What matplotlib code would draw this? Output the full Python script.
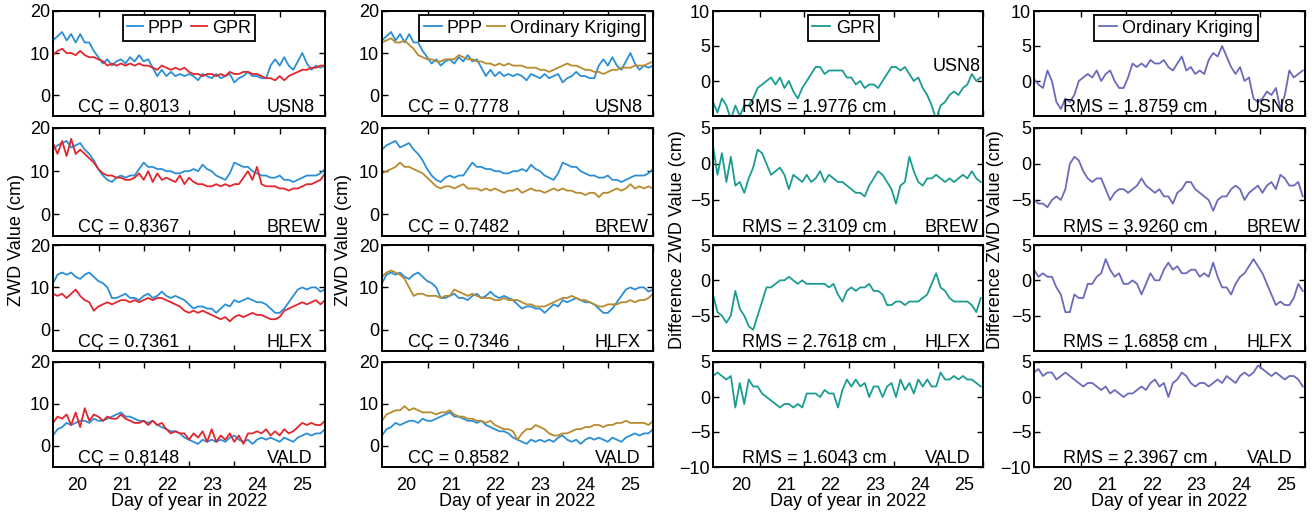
import numpy as np
import matplotlib
matplotlib.use("Agg")
import matplotlib.pyplot as plt

plt.rcParams['font.family'] = ['Liberation Sans', 'DejaVu Sans']

# ---------------- data ----------------
stations = ["USN8", "BREW", "HLFX", "VALD"]
cc_gpr = ["0.8013", "0.8367", "0.7361", "0.8148"]
cc_ok = ["0.7778", "0.7482", "0.7346", "0.8582"]
rms_gpr = ["1.9776", "2.3109", "2.7618", "1.6043"]
rms_ok = ["1.8759", "3.9260", "1.6858", "2.3967"]
day_labels = [20, 21, 22, 23, 24, 25]

# time axes (day of year 2022)
days_zwd = np.linspace(19.47, 25.51, 61)
days_diff = np.linspace(19.37, 25.37, 61)

ppp_usn8 = [13, 14, 15, 13, 14.5, 12.5, 14.5, 12.5, 12.5, 10.5, 9, 7.5, 8.5, 7, 8, 8.5, 7.5, 9, 8, 9.5,
            8, 8.5, 6.5, 4.5, 6, 4.5, 5.5, 4.5, 5, 4.5, 5, 4.5, 3.5, 5, 4.5, 4, 5, 4, 4.5, 5,
            3, 4, 4.5, 5.5, 4.5, 4.5, 4, 4, 7, 8.5, 7, 9, 7, 6, 8, 10, 7.5, 6, 7, 6.5, 7]
gpr_usn8 = [9.5, 10.5, 11, 10, 10, 9.5, 10.5, 9.5, 9, 9, 8.5, 8, 7, 7.5, 7, 7.5, 7, 7.5, 7, 7.5,
            7, 7, 6.5, 6, 7, 6.5, 6, 6.5, 6, 6.5, 5.5, 5, 5, 4.5, 5, 5, 4.5, 5, 4.5, 5.5,
            5, 5, 5.5, 5.5, 5, 5, 4.5, 4, 4, 3.5, 4.5, 3.5, 4.5, 5, 5.5, 6, 6, 6.5, 6.5, 7, 7]
ok_usn8 = [12.5, 13, 13.5, 12.5, 12.5, 13, 12, 11, 9.5, 9, 8.5, 8.5, 8, 8, 8.5, 8.5, 8.5, 9.5, 9, 8.5,
           8.5, 8, 8, 7.5, 7.5, 7, 7.5, 7, 7.5, 7, 7, 7, 6.5, 6.5, 6.5, 6, 6, 5.5, 6, 6.5,
           7, 7.5, 7, 7, 6.5, 6, 6, 5.5, 5.5, 5, 5.5, 6, 6, 6.5, 6.5, 6.5, 7, 7, 7, 7.5, 8]

ppp_brew = [15, 16, 16.5, 17, 15.5, 16, 16.5, 15, 14, 12.5, 10.5, 9, 8, 7.5, 8.5, 9, 8.5, 9, 9, 10.5,
            12, 11, 11, 10.5, 10.5, 10, 10, 9.5, 9.5, 10, 10, 10.5, 10, 11.5, 10.5, 10, 9, 8.5, 8, 9.5,
            12, 11.5, 11, 11, 10, 9.5, 9, 9, 8.5, 8.5, 9, 8, 8, 7.5, 8, 8.5, 9, 9, 9, 9.5, 10.5]
gpr_brew = [16.5, 14, 17, 13.5, 17.5, 14, 15, 14, 13, 12, 10.5, 9.5, 9, 9, 8.5, 8.5, 8, 8, 8.5, 9.5,
            8, 10, 7.5, 9.5, 8, 8.5, 8, 7.5, 9, 7, 8.5, 7.5, 7, 7, 6.5, 6.5, 7, 6.5, 7, 6.5,
            7, 7, 8.5, 10, 8, 11, 7, 6.5, 6.5, 6.5, 6, 6, 5.5, 6, 6, 6.5, 7, 7, 7.5, 8, 9.5]
ok_brew = [9.5, 10, 10.5, 11, 12, 11, 11, 10.5, 10, 9.5, 8.5, 7.5, 6.5, 6, 6.5, 6.5, 6, 6.5, 7, 6,
           6, 6, 5.5, 6, 5.5, 6, 5.5, 5, 5.5, 5.5, 6, 5, 5.5, 6, 5.5, 5.5, 5, 5.5, 6, 5.5,
           6, 5.5, 5.5, 5, 5, 4.5, 5, 5, 4, 5, 5, 5.5, 6, 5.5, 6, 7, 6, 6.5, 6, 6.5, 6]

ppp_hlfx = [11, 13, 13.5, 13, 13.5, 12.5, 12, 13, 13.5, 12.5, 11.5, 11, 10, 7.5, 7.5, 8, 8.5, 7.5, 7.5, 7,
            8, 8.5, 7.5, 8, 9, 8, 7.5, 8, 7.5, 7, 6, 5, 5.5, 5.5, 5, 5, 4, 5, 6, 5.5,
            7, 6.5, 7, 7.5, 7, 6.5, 6.5, 6, 5, 4, 4, 5, 6.5, 8, 9.5, 10, 9.5, 10, 10, 9, 9.5]
gpr_hlfx = [8.5, 8, 8.5, 7.5, 8.5, 9.5, 8, 7, 6.5, 4.5, 5.5, 6, 6.5, 6, 6.5, 7, 7, 6.5, 7, 6.5,
            7, 7.5, 7, 7.5, 7.5, 7, 6.5, 6, 5.5, 4.5, 4, 4.5, 4, 4.5, 4, 3.5, 3, 2.5, 3, 2,
            3, 3.5, 3, 3.5, 4, 3.5, 3.5, 3, 2.5, 2.5, 3, 4.5, 5, 5.5, 6, 6.5, 6, 6.5, 7, 6, 7]
ok_hlfx = [12.5, 13.5, 14, 13.5, 13, 12, 10, 8, 8.5, 8.5, 8, 8, 8, 7.5, 8, 8, 9.5, 9, 8.5, 8,
           8.5, 8, 7.5, 7.5, 7.5, 7, 7, 7.5, 7, 7, 7, 6.5, 6, 6, 5.5, 5.5, 5.5, 6, 6.5, 7,
           7.5, 7.5, 8, 7.5, 7, 7, 6.5, 6, 5.5, 5.5, 6, 6, 6, 6.5, 6.5, 7, 6.5, 7, 7, 7.5, 8.5]

ppp_vald = [2.5, 4, 4.5, 5.5, 5, 5.5, 6, 6, 5.5, 6.5, 6, 6, 6.5, 7, 7.5, 8, 7, 7, 6.5, 6,
            6, 5.5, 6, 5, 4.5, 4, 3.5, 3.5, 3, 2, 1.5, 1, 0.5, 1.5, 1, 1.5, 1, 1.5, 1, 2,
            2.5, 1.5, 1, 1.5, 0.5, 1.5, 2, 1.5, 2, 1.5, 1, 2, 1.5, 1, 2, 2.5, 3, 2.5, 3, 3, 4]
gpr_vald = [5.5, 7, 6.5, 7.5, 5, 8, 4.5, 9, 6, 7.5, 7, 6, 7, 6.5, 6.5, 7.5, 6.5, 6, 5.5, 5.5,
            6, 5, 6, 5, 5.5, 4, 3, 3.5, 3, 3, 1.5, 3, 2, 3.5, 1, 4, 1, 2.5, 1.5, 3,
            1, 2.5, 0.5, 3, 3, 3.5, 3, 4, 2.5, 3.5, 2.5, 4, 3, 3.5, 4.5, 5.5, 5, 5.5, 5, 5, 6]
ok_vald = [6, 7.5, 8, 8.5, 8.5, 9.5, 8.5, 9, 8.5, 8, 8, 8, 7.5, 8, 8, 8.5, 7.5, 7, 7, 6.5,
           6.5, 6, 6, 5.5, 6, 5, 4.5, 4, 4, 3.5, 1.5, 3, 4, 4, 5, 4.5, 4, 3, 2.5, 2.5,
           3, 3, 3.5, 4, 4, 4.5, 4.5, 5, 5, 4.5, 5, 5, 5.5, 5.5, 6, 5.5, 5.5, 5.5, 5.5, 5, 6]

# differences (model - PPP)
dgpr_usn8 = [-3, -4.5, -2.5, -3.5, -5.5, -3.5, -5, -3.5, -3.5, -2.5, -1, -0.5, 0, 0.5, -0.5, 0.5, -1, 0, -1.5, -2.5,
             -1, 0, 1, 2, 2, 1, 1.5, 1.5, 1.5, 1.5, 0.5, 0.5, -0.5, 0, -1, -0.5, -0.5, -1, 0, 1,
             2, 2, 1.5, 2, 1, 0, 0.5, -1, -2, -3.5, -5.5, -3.5, -3, -2, -1.5, -2, -1, -0.5, 1, 0, 0.5]
dgpr_brew = [2.5, -1.5, 1.5, -2.5, 1, -3, -2.5, -4, -2, -0.5, 2, 1.5, 0, -1.5, -1, -0.5, -1.5, -3.5, -1.5, -2,
             -2.5, -1.5, -2.5, -2, -1, -2.5, -1.5, -2, -2.5, -2.5, -3, -3.5, -4, -4, -4.5, -3, -2, -1, -1.5, -2.5,
             -3.5, -5.5, -3, -2.5, 1, -1, -2.5, -3, -2, -2, -1.5, -2, -2.5, -2, -2.5, -2, -1.5, -2, -1, -2, -2.5]
dgpr_hlfx = [-2, -4.5, -5, -6, -5, -1.5, -4, -5, -6.5, -7, -5, -3, -1, -1, -0.5, 0, 0, 0.5, 0, -0.5,
             0, -0.5, -0.5, -0.5, -0.5, -0.5, -1, -0.5, -2, -3, -1.5, -1, -1.5, -1, -1, -0.5, -1.5, -1.5, -2, -3.5,
             -3.5, -3, -3, -3.5, -3, -3, -3, -2.5, -2, -0.5, 1, -1, -1.5, -2.5, -3, -3, -3, -3, -3.5, -4.5, -2.5]
dgpr_vald = [3, 3.5, 3, 2.5, 3, -1.5, 2, -1, 2.5, 1.5, 1.5, 0.5, 0, -0.5, -1, -1.5, -1, -1, -1.5, -1,
             -1.5, 0.5, 0.5, 0.5, 0, 1, 0.5, 0.5, -1.5, 1, 2.5, 1.5, 2.5, 1.5, 2, 0, 1.5, 1.5, 0, 1.5,
             2, 0, 2.5, 1, 2, 0.5, 2.5, 1.5, 2.5, 1.5, 1.5, 3.5, 2.5, 2.5, 3, 2.5, 3, 2.5, 2.5, 2, 1.5]

dok_usn8 = [0.3, -0.5, -1, 1.5, 0, -3, -4, -2.5, -3, -2, 0, 0.5, 1, 0.5, 1.5, 0, 1, 1.5, 0, -1,
            -1, 0.5, 2.5, 2, 2.5, 2, 3, 2.5, 2.5, 3, 2, 1.5, 2.5, 3.5, 1.5, 2, 1, 1.5, 1, 3,
            4, 3.5, 5, 3.5, 2, 1, 2, 0, 0.5, -2.5, -3, -2.5, -1.5, -2, -1, -4, -2, 1.5, 0.5, 1, 1.5]
dok_brew = [-5, -5.5, -5.5, -6, -5, -4.5, -5, -3.5, 0, 1, 0.5, -1, -2, -2.5, -2, -2, -3.5, -5, -4, -3.5,
            -3.5, -4, -3.5, -3, -2, -3, -3.5, -4, -3.5, -4.5, -4.5, -5.5, -4, -3.5, -2.5, -2.5, -3.5, -4, -4.5, -5,
            -6.5, -5, -4.5, -4.5, -3.5, -3, -3.5, -5, -4, -3.5, -3, -4, -3, -2.5, -3.5, -1.5, -2, -3, -3, -2.5, -4.5]
dok_hlfx = [1.5, 0.5, 1, 0.5, 0.5, -1, -2, -4.5, -4.5, -2, -2.5, -2.5, -0.5, -0.5, 0.5, 1, 3, 1.5, 0.5, 1,
            -0.5, -0.5, 0, -0.5, -2, -0.5, 1, 0, 0, 1.5, 2.5, 1.5, 2, 1, 1, 1.5, 1.5, 0.5, 1, 0.5,
            2.5, 0.5, -1, -1, -2, -0.5, 0.5, 1, 2, 3, 2, 1, -0.5, -2, -3.5, -3, -3.5, -3.5, -2.5, -0.5, -1.5]
dok_vald = [3.5, 4, 3, 3.5, 3.5, 2.5, 3, 3.5, 3, 2.5, 2, 1.5, 2, 2, 1.5, 1, 1.5, 0.5, 1, 0.5,
            0, 0.5, 0.5, 1, 1.5, 1, 2, 2.5, 1.5, 2, 0, 2, 2.5, 3.5, 3, 2, 1.5, 2, 2, 1.5,
            2, 2.5, 2, 3, 2.5, 2, 3, 3.5, 3, 3.5, 4.5, 4, 3.5, 3, 3.5, 3, 2.5, 3, 3, 2.5, 1.5]

ppp = [ppp_usn8, ppp_brew, ppp_hlfx, ppp_vald]
gpr = [gpr_usn8, gpr_brew, gpr_hlfx, gpr_vald]
okr = [ok_usn8, ok_brew, ok_hlfx, ok_vald]
dgpr = [dgpr_usn8, dgpr_brew, dgpr_hlfx, dgpr_vald]
dok = [dok_usn8, dok_brew, dok_hlfx, dok_vald]

# ---------------- style ----------------
C_PPP = '#2a8fd6'
C_GPR = '#e3262c'
C_OK = '#b98a2e'
C_DGPR = '#1b9c92'
C_DOK = '#6a6abb'
FS = 13
LW = 1.3

W, H = 1312, 516
col_l = [53, 382, 713, 1034]
col_r = [325, 653, 983, 1305]
row_t = [11, 128, 245, 362]
row_b = [116, 236, 351, 467]

fig = plt.figure(figsize=(W / 100, H / 100), dpi=100)


def make_ax(c, r):
    return fig.add_axes([col_l[c] / W, 1 - row_b[r] / H,
                         (col_r[c] - col_l[c]) / W, (row_b[r] - row_t[r]) / H])


def style(ax, r, xlim, tick_off):
    ax.set_xlim(*xlim)
    ax.set_xticks(day_labels)
    ax.set_xticks([d + tick_off for d in day_labels], minor=True)
    ax.tick_params(axis='x', which='major', length=0, pad=7, labelsize=FS)
    ax.tick_params(axis='x', which='minor', direction='in', length=4, width=1,
                   top=True, bottom=True)
    if r < 3:
        ax.set_xticklabels([])
    ax.tick_params(axis='y', which='major', direction='in', length=4, width=1,
                   left=True, right=True, pad=2, labelsize=FS)
    for s in ax.spines.values():
        s.set_linewidth(1.4)


def add_legend(ax, handles, labels, loc, anchor, colsp, tpad=0.3, hlen=1.0):
    leg = ax.legend(handles, labels, loc=loc, bbox_to_anchor=anchor, ncol=len(labels),
                    fontsize=FS, handlelength=hlen, handletextpad=tpad, columnspacing=colsp,
                    borderpad=0.25, borderaxespad=0, fancybox=False, framealpha=1,
                    edgecolor='black')
    leg.get_frame().set_linewidth(1.3)


zwd_xlim = (19.47, 25.51)
diff_xlim = (19.37, 25.37)
LEG_TOP = 0.962

for r in range(4):
    # column 1: PPP vs GPR
    ax = make_ax(0, r)
    l1, = ax.plot(days_zwd, ppp[r], color=C_PPP, lw=LW)
    l2, = ax.plot(days_zwd, gpr[r], color=C_GPR, lw=LW)
    ax.set_ylim(-5, 20)
    ax.set_yticks([0, 10, 20])
    style(ax, r, zwd_xlim, 0.5)
    ax.text(0.092, 0.035, "CC = " + cc_gpr[r], transform=ax.transAxes, fontsize=FS, va='baseline')
    ax.text(0.785, 0.035, stations[r], transform=ax.transAxes, fontsize=FS, va='baseline')
    if r == 0:
        add_legend(ax, [l1, l2], ['PPP', 'GPR'], 'upper center', (0.5, LEG_TOP), 0.4,
                   tpad=0.25, hlen=0.9)

    # column 2: PPP vs Ordinary Kriging
    ax = make_ax(1, r)
    l1, = ax.plot(days_zwd, ppp[r], color=C_PPP, lw=LW)
    l2, = ax.plot(days_zwd, okr[r], color=C_OK, lw=LW)
    ax.set_ylim(-5, 20)
    ax.set_yticks([0, 10, 20])
    style(ax, r, zwd_xlim, 0.5)
    ax.text(0.095, 0.035, "CC = " + cc_ok[r], transform=ax.transAxes, fontsize=FS, va='baseline')
    ax.text(0.785, 0.035, stations[r], transform=ax.transAxes, fontsize=FS, va='baseline')
    if r == 0:
        add_legend(ax, [l1, l2], ['PPP', 'Ordinary Kriging'], 'upper right', (0.970, LEG_TOP),
                   0.25, tpad=0.25)

    # column 3: GPR difference
    ax = make_ax(2, r)
    l1, = ax.plot(days_diff, dgpr[r], color=C_DGPR, lw=LW)
    if r == 0:
        ax.set_ylim(-5, 10)
        ax.set_yticks([0, 5, 10])
    else:
        ax.set_ylim(-10, 5)
        ax.set_yticks([-10, -5, 0, 5] if r == 3 else [-5, 0, 5])
    style(ax, r, diff_xlim, 0.42)
    ax.text(0.107, 0.035, "RMS = " + rms_gpr[r] + " cm", transform=ax.transAxes, fontsize=FS, va='baseline')
    if r == 0:
        ax.text(0.815, 0.425, stations[r], transform=ax.transAxes, fontsize=FS, va='baseline')
        add_legend(ax, [l1], ['GPR'], 'upper center', (0.483, LEG_TOP), 0.3)
    else:
        ax.text(0.785, 0.035, stations[r], transform=ax.transAxes, fontsize=FS, va='baseline')

    # column 4: Ordinary Kriging difference
    ax = make_ax(3, r)
    l1, = ax.plot(days_diff, dok[r], color=C_DOK, lw=LW)
    if r == 0:
        ax.set_ylim(-5, 10)
        ax.set_yticks([0, 5, 10])
    else:
        ax.set_ylim(-10, 5)
        ax.set_yticks([-10, -5, 0, 5] if r == 3 else [-5, 0, 5])
    style(ax, r, diff_xlim, 0.42)
    ax.text(0.107, 0.035, "RMS = " + rms_ok[r] + " cm", transform=ax.transAxes, fontsize=FS, va='baseline')
    ax.text(0.785, 0.035, stations[r], transform=ax.transAxes, fontsize=FS, va='baseline')
    if r == 0:
        add_legend(ax, [l1], ['Ordinary Kriging'], 'upper center', (0.524, LEG_TOP), 0.3)

# axis labels
ymid = 1 - 240 / H
fig.text(17 / W, ymid, "ZWD Value (cm)", rotation=90, ha='center', va='center', fontsize=FS)
fig.text(343 / W, ymid, "ZWD Value (cm)", rotation=90, ha='center', va='center', fontsize=FS)
fig.text(677 / W, ymid, "Difference ZWD Value (cm)", rotation=90, ha='center', va='center', fontsize=FS)
fig.text(996 / W, ymid, "Difference ZWD Value (cm)", rotation=90, ha='center', va='center', fontsize=FS)
for c in range(4):
    fig.text((col_l[c] + col_r[c]) / 2 / W, 1 - 501 / H, "Day of year in 2022",
             ha='center', va='center', fontsize=FS)

fig.savefig("out.png", dpi=100)
